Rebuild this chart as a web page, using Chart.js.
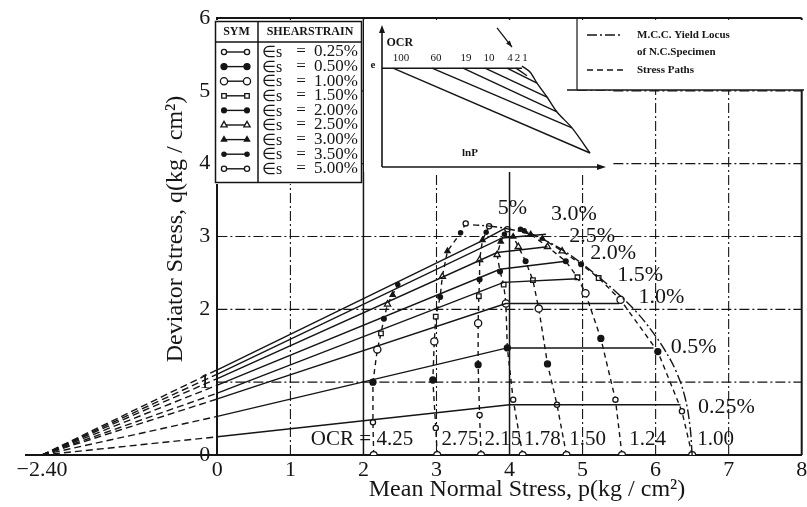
<!DOCTYPE html>
<html>
<head>
<meta charset="utf-8">
<script src="https://cdn.jsdelivr.net/npm/chart.js@4.4.1/dist/chart.umd.min.js"></script>
<style>
  html, body { margin: 0; padding: 0; background: #fff; }
  #wrap { position: relative; width: 807px; height: 507px; }
  #mainChart { position: absolute; left: 0; top: 0; }
  #insetChart { position: absolute; left: 364px; top: 20px; }
</style>
</head>
<body>
<div id="wrap">
  <canvas id="mainChart" width="807" height="507"></canvas>
  <canvas id="insetChart" width="250" height="152"></canvas>
</div>
<script>
const serif = "'Liberation Serif', 'Times New Roman', serif";
const ink = '#151515';

// axes and grid
const xTicks = [-2.4, 0, 1, 2, 3, 4, 5, 6, 7, 8];
const yTicks = [0, 1, 2, 3, 4, 5, 6];
const gridP = [1, 2, 3, 4, 5, 6, 7];
const solidGridP = [2, 4];
const gridQ = [1, 2, 3, 4, 5];

// lines of equal shear strain: dashed from (-2.40, 0) to the q intercept, then solid
const strainLabels = ['0.25%', '0.5%', '1.0%', '1.5%', '2.0%', '2.5%', '3.0%', '5%'];
const originP = -2.40;
const interceptQ = [0.25, 0.53, 0.77, 0.85, 0.96, 1.05, 1.11, 1.17];
const bendP = [4.00, 3.97, 3.95, 3.92, 3.87, 3.83, 3.90, 3.60];
const bendQ = [0.69, 1.47, 2.08, 2.37, 2.55, 2.78, 2.98, 2.93];
const endP = [6.34, 5.97, 5.50, 4.93, 4.77, 4.52, 4.50, 3.95];
const endQ = [0.69, 1.47, 2.08, 2.42, 2.66, 2.86, 3.03, 3.12];
const labelP = [6.97, 6.52, 6.08, 5.79, 5.42, 5.13, 4.88, 4.04];
const labelQ = [0.65, 1.48, 2.17, 2.47, 2.77, 3.00, 3.31, 3.39];

// undrained stress paths, one per OCR
const ocrLabels = ['OCR = 4.25', '2.75', '2.15', '1.78', '1.50', '1.24', '1.00'];
const ocrLabelP = [1.98, 3.32, 3.91, 4.45, 5.07, 5.89, 6.82];
const ocrLabelQ = 0.21;
const pathP = [
  [2.14, 2.13, 2.13, 2.19, 2.24, 2.28, 2.33, 2.40, 2.47],
  [3.01, 2.99, 2.95, 2.97, 2.99, 3.05, 3.08, 3.15, 3.33, 3.40],
  [3.61, 3.59, 3.57, 3.57, 3.58, 3.59, 3.59, 3.63, 3.68, 3.72],
  [4.18, 4.05, 3.97, 3.95, 3.92, 3.87, 3.83, 3.88, 3.93, 3.97],
  [4.78, 4.65, 4.52, 4.40, 4.32, 4.22, 4.12, 4.05],
  [5.54, 5.45, 5.25, 5.04, 4.93, 4.77, 4.52, 4.29, 4.15],
  [6.50, 6.36, 6.03, 5.52, 5.22, 4.98, 4.72, 4.45, 4.20]
];
const pathQ = [
  [0, 0.45, 1.00, 1.45, 1.67, 1.87, 2.07, 2.20, 2.34],
  [0, 0.37, 1.03, 1.56, 1.90, 2.17, 2.45, 2.80, 3.05, 3.18],
  [0, 0.55, 1.24, 1.81, 2.18, 2.41, 2.68, 2.95, 3.06, 3.14],
  [0, 0.76, 1.47, 2.08, 2.34, 2.52, 2.75, 2.93, 3.03, 3.10],
  [0, 0.69, 1.25, 2.01, 2.40, 2.66, 2.86, 3.00],
  [0, 0.76, 1.60, 2.22, 2.44, 2.66, 2.86, 3.03, 3.10],
  [0, 0.60, 1.42, 2.13, 2.43, 2.62, 2.80, 2.97, 3.08]
];
// symbol per point: -1 = start of path, otherwise index into legendStrains
const pathMark = [
  [-1, 0, 1, 2, 3, 4, 5, 6, 7],
  [-1, 0, 1, 2, 3, 4, 5, 6, 7, 8],
  [-1, 0, 1, 2, 3, 4, 5, 6, 7, 8],
  [-1, 0, 1, 2, 3, 4, 5, 6, 7, 8],
  [-1, 0, 1, 2, 3, 4, 5, 6],
  [-1, 0, 1, 2, 3, 4, 5, 6, 7],
  [-1, 0, 1, 2, 3, 4, 5, 6, 7]
];

// modified Cam-clay yield locus of the N.C. specimen
const mccP = [6.50, 6.47, 6.40, 6.28, 6.12, 5.95, 5.75, 5.50, 5.25, 5.00, 4.75, 4.50, 4.25, 4.00, 3.75, 3.50];
const mccQ = [0.00, 0.40, 0.80, 1.15, 1.45, 1.70, 1.95, 2.20, 2.42, 2.62, 2.80, 2.94, 3.04, 3.10, 3.14, 3.16];

const legendStrains = ['0.25%', '0.50%', '1.00%', '1.50%', '2.00%', '2.50%', '3.00%', '3.50%', '5.00%'];

// e - lnP sketch (schematic units)
const insetOCR = ['100', '60', '19', '10', '4', '2', '1'];
const insetLabelX = [1.48, 2.88, 4.08, 5.0, 5.84, 6.14, 6.44];
const eLevel = 4.1;
const swellStartX = [1.16, 2.72, 3.96, 4.84, 5.72, 6.08];
const swellEndX = [9.04, 8.32, 7.72, 7.32, 6.92, 6.52];
const swellEndY = [0.75, 1.74, 2.37, 2.96, 3.51, 3.80];
const nclX = [6.32, 6.64, 6.92, 7.32, 7.72, 8.32, 9.04];
const nclY = [4.18, 3.95, 3.51, 2.96, 2.37, 1.74, 0.75];

const markStyle = [
  { style: 'circle', r: 2.6, fill: '#fff' },
  { style: 'circle', r: 3, fill: ink },
  { style: 'circle', r: 3.6, fill: '#fff' },
  { style: 'rect', r: 3.2, fill: '#fff' },
  { style: 'circle', r: 2.4, fill: ink },
  { style: 'triangle', r: 3.6, fill: '#fff' },
  { style: 'triangle', r: 3, fill: ink },
  { style: 'circle', r: 2.1, fill: ink },
  { style: 'circle', r: 2.6, fill: '#fff' }
];
const startMark = { style: 'circle', r: 3.4, fill: '#fff' };
const dashDot = [10, 3, 2, 3];

function line(ctx, x1, y1, x2, y2, dash, width) {
  ctx.beginPath();
  ctx.setLineDash(dash);
  ctx.lineWidth = width;
  ctx.moveTo(x1, y1);
  ctx.lineTo(x2, y2);
  ctx.stroke();
}

function marker(ctx, m, px, py) {
  ctx.setLineDash([]);
  ctx.fillStyle = m.fill;
  ctx.strokeStyle = ink;
  ctx.lineWidth = 1.3;
  Chart.helpers.drawPoint(ctx, { pointStyle: m.style, radius: m.r, rotation: 0, borderWidth: 1.3 }, px, py);
}

function text(ctx, str, px, py, font, align) {
  ctx.font = font;
  ctx.fillStyle = ink;
  ctx.textAlign = align || 'center';
  ctx.textBaseline = 'middle';
  ctx.fillText(str, px, py);
}

// white areas behind the key table, the e-lnP sketch and the line key
const panels = [[214, 20, 362, 184], [364, 20, 577, 172], [577, 91, 612, 172], [578, 20, 804, 90]];

const sheet = {
  id: 'sheet',
  beforeDatasetsDraw(chart) {
    const { ctx, scales: { x, y } } = chart;
    const left = x.getPixelForValue(0), right = x.getPixelForValue(8);
    const bottom = y.getPixelForValue(0), top = y.getPixelForValue(6);
    ctx.save();
    ctx.strokeStyle = ink;
    gridQ.forEach(q => {
      const py = y.getPixelForValue(q);
      line(ctx, left, py, right, py, dashDot, 1.1);
    });
    gridP.forEach(p => {
      const px = x.getPixelForValue(p);
      const solid = solidGridP.includes(p);
      line(ctx, px, bottom, px, top, solid ? [] : dashDot, solid ? 1.5 : 1.1);
    });
    line(ctx, left, top, right, top, [], 2);
    line(ctx, right, top, right, bottom, [], 2);
    ctx.fillStyle = '#fff';
    panels.forEach(r => ctx.fillRect(r[0], r[1], r[2] - r[0], r[3] - r[1]));
    ctx.restore();
  },
  afterDatasetsDraw(chart) {
    const { ctx, scales: { x, y } } = chart;
    ctx.save();

    // q tick labels sit left of the p = 0 axis
    const axisX = x.getPixelForValue(0);
    yTicks.forEach(v => {
      text(ctx, String(v), axisX - 7, y.getPixelForValue(v), '22px ' + serif, 'right');
    });

    strainLabels.forEach((s, i) => {
      text(ctx, s, x.getPixelForValue(labelP[i]), y.getPixelForValue(labelQ[i]), '22px ' + serif);
    });
    ocrLabels.forEach((s, i) => {
      text(ctx, s, x.getPixelForValue(ocrLabelP[i]), y.getPixelForValue(ocrLabelQ), '21px ' + serif);
    });

    // key table of symbols
    ctx.strokeStyle = ink;
    ctx.setLineDash([]);
    ctx.lineWidth = 1.5;
    ctx.strokeRect(215.5, 21.5, 146, 161);
    line(ctx, 258, 21, 258, 183, [], 1.5);
    line(ctx, 215, 42, 361, 42, [], 1.5);
    text(ctx, 'SYM', 236.5, 32, 'bold 12px ' + serif);
    text(ctx, 'SHEARSTRAIN', 310, 32, 'bold 12px ' + serif);
    legendStrains.forEach((s, i) => {
      const ry = 52 + i * 14.6;
      ctx.strokeStyle = ink;
      line(ctx, 224, ry, 247, ry, [], 1.4);
      marker(ctx, markStyle[i], 224, ry);
      marker(ctx, markStyle[i], 247, ry);
      text(ctx, '∈s', 262, ry + 1, '16px ' + serif, 'left');
      text(ctx, '=', 301, ry, '17px ' + serif);
      text(ctx, s, 358, ry, '17px ' + serif, 'right');
    });

    // line key
    ctx.strokeStyle = ink;
    line(ctx, 577, 18, 577, 90, [], 1.2);
    line(ctx, 567, 90, 804, 90, [], 1.4);
    line(ctx, 587, 35, 623, 35, dashDot, 1.4);
    line(ctx, 587, 70, 623, 70, [6, 4], 1.4);
    text(ctx, 'M.C.C. Yield Locus', 637, 35, 'bold 11px ' + serif, 'left');
    text(ctx, 'of N.C.Specimen', 637, 52, 'bold 11px ' + serif, 'left');
    text(ctx, 'Stress Paths', 637, 70, 'bold 11px ' + serif, 'left');

    // axis titles
    text(ctx, 'Mean Normal Stress, p(kg / cm²)', 527, 490, '24px ' + serif);
    ctx.translate(176, 229);
    ctx.rotate(-Math.PI / 2);
    text(ctx, 'Deviator Stress, q(kg / cm²)', 0, 0, '24px ' + serif);
    ctx.restore();
  }
};

const datasets = [];
strainLabels.forEach((s, i) => {
  datasets.push({
    label: s,
    data: [{ x: originP, y: 0 }, { x: 0, y: interceptQ[i] }, { x: bendP[i], y: bendQ[i] }, { x: endP[i], y: endQ[i] }],
    borderColor: ink,
    borderWidth: 1.4,
    pointRadius: 0,
    segment: { borderDash: ctx => (ctx.p0DataIndex === 0 ? [7, 4] : undefined) }
  });
});
datasets.push({
  label: 'M.C.C. Yield Locus',
  data: mccP.map((p, j) => ({ x: p, y: mccQ[j] })),
  borderColor: ink,
  borderWidth: 1.4,
  borderDash: dashDot,
  tension: 0.4,
  pointRadius: 0
});
pathP.forEach((ps, i) => {
  const mk = ctx => (pathMark[i][ctx.dataIndex] < 0 ? startMark : markStyle[pathMark[i][ctx.dataIndex]]);
  datasets.push({
    label: 'OCR ' + ocrLabels[i],
    data: ps.map((p, j) => ({ x: p, y: pathQ[i][j] })),
    borderColor: ink,
    borderWidth: 1.4,
    borderDash: [5, 4],
    pointStyle: ctx => mk(ctx).style,
    pointRadius: ctx => mk(ctx).r,
    pointBackgroundColor: ctx => mk(ctx).fill,
    pointBorderColor: ink,
    pointBorderWidth: 1.3
  });
});

new Chart(document.getElementById('mainChart').getContext('2d'), {
  type: 'line',
  data: { datasets: datasets },
  options: {
    responsive: false,
    animation: false,
    layout: { padding: { left: 26, right: 4, top: 18, bottom: 0 } },
    plugins: { legend: { display: false }, tooltip: { enabled: false } },
    scales: {
      x: {
        type: 'linear',
        min: -2.62,
        max: 8,
        afterBuildTicks: s => { s.ticks = xTicks.map(v => ({ value: v })); },
        afterFit: s => { s.height = 52; s.paddingLeft = 0; s.paddingRight = 0; },
        grid: { display: false, drawTicks: false },
        border: { color: ink, width: 2 },
        ticks: {
          color: ink,
          padding: 2,
          maxRotation: 0,
          autoSkip: false,
          font: { family: serif, size: 22 },
          callback: v => (v === -2.4 ? '−2.40' : String(v))
        }
      },
      y: {
        type: 'linear',
        min: 0,
        max: 6,
        position: { x: 0 },
        afterFit: s => { s.paddingTop = 0; s.paddingBottom = 0; },
        grid: { display: false, drawTicks: false },
        border: { color: ink, width: 2 },
        ticks: { display: false }
      }
    }
  },
  plugins: [sheet]
});

// e - lnP sketch
const insetAxes = {
  id: 'insetAxes',
  afterDatasetsDraw(chart) {
    const { ctx, scales: { x, y } } = chart;
    const ax = x.getPixelForValue(0.72), ay = y.getPixelForValue(0.2);
    const topY = y.getPixelForValue(5.8), rightX = x.getPixelForValue(9.68);
    ctx.save();
    ctx.strokeStyle = ink;
    ctx.fillStyle = ink;
    line(ctx, ax, ay, ax, topY + 4, [], 1.6);
    line(ctx, ax, ay, rightX - 5, ay, [], 1.6);
    ctx.beginPath();
    ctx.moveTo(ax, topY); ctx.lineTo(ax - 3, topY + 8); ctx.lineTo(ax + 3, topY + 8); ctx.closePath(); ctx.fill();
    ctx.beginPath();
    ctx.moveTo(rightX, ay); ctx.lineTo(rightX - 9, ay - 3); ctx.lineTo(rightX - 9, ay + 3); ctx.closePath(); ctx.fill();
    // arrow pointing at the N.C. line
    const a1x = x.getPixelForValue(5.32), a1y = y.getPixelForValue(5.69);
    const a2x = x.getPixelForValue(5.92), a2y = y.getPixelForValue(4.93);
    line(ctx, a1x, a1y, a2x, a2y, [], 1.3);
    const ang = Math.atan2(a2y - a1y, a2x - a1x);
    ctx.beginPath();
    ctx.moveTo(a2x, a2y);
    ctx.lineTo(a2x - 7 * Math.cos(ang - 0.35), a2y - 7 * Math.sin(ang - 0.35));
    ctx.lineTo(a2x - 7 * Math.cos(ang + 0.35), a2y - 7 * Math.sin(ang + 0.35));
    ctx.closePath(); ctx.fill();
    text(ctx, 'OCR', x.getPixelForValue(0.9), y.getPixelForValue(5.1), 'bold 12px ' + serif, 'left');
    insetOCR.forEach((s, i) => {
      text(ctx, s, x.getPixelForValue(insetLabelX[i]), y.getPixelForValue(4.5), '11px ' + serif);
    });
    text(ctx, 'e', x.getPixelForValue(0.36), y.getPixelForValue(4.2), 'bold 11px ' + serif);
    text(ctx, 'lnP', x.getPixelForValue(4.24), y.getPixelForValue(0.75), 'bold 11px ' + serif);
    ctx.restore();
  }
};

const insetSets = [{
  data: [{ x: 0.72, y: eLevel }, { x: nclX[0], y: eLevel }],
  borderColor: ink, borderWidth: 1.5, pointRadius: 0
}, {
  data: nclX.map((v, j) => ({ x: v, y: nclY[j] })),
  borderColor: ink, borderWidth: 1.4, pointRadius: 0, tension: 0.3
}];
swellStartX.forEach((v, i) => {
  insetSets.push({
    data: [{ x: v, y: eLevel }, { x: swellEndX[i], y: swellEndY[i] }],
    borderColor: ink, borderWidth: 1.4, pointRadius: 0
  });
});

new Chart(document.getElementById('insetChart').getContext('2d'), {
  type: 'line',
  data: { datasets: insetSets },
  options: {
    responsive: false,
    animation: false,
    layout: { padding: 0 },
    plugins: { legend: { display: false }, tooltip: { enabled: false } },
    scales: {
      x: { type: 'linear', min: 0, max: 10, display: false },
      y: { type: 'linear', min: 0, max: 6, display: false }
    }
  },
  plugins: [insetAxes]
});
</script>
</body>
</html>
